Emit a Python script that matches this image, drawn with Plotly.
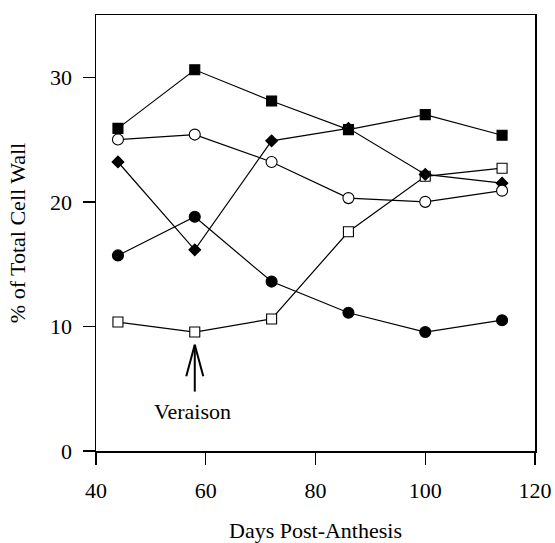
import plotly.graph_objects as go

days = [44, 58, 72, 86, 100, 114]
filled_square = [25.9, 30.6, 28.1, 25.8, 27.0, 25.35]
open_circle = [25.0, 25.4, 23.2, 20.3, 20.0, 20.9]
filled_diamond = [23.2, 16.15, 24.9, 25.9, 22.2, 21.5]
open_square = [10.35, 9.55, 10.6, 17.6, 22.05, 22.7]
filled_circle = [15.7, 18.8, 13.6, 11.1, 9.55, 10.5]

x_ticks = [40, 60, 80, 100, 120]
y_ticks = [0, 10, 20, 30]

veraison_day = 58
arrow_tip = 8.53
arrow_tail = 4.77
barb_end = 6.0
barb_half = 1.55
label_y = 3.16

FONT = "Liberation Serif"

fig = go.Figure()

def add(y, symbol, fill, size):
    fig.add_trace(go.Scatter(
        x=days, y=y, mode="lines+markers",
        line=dict(color="black", width=1.2),
        marker=dict(symbol=symbol, size=size, color=fill,
                    line=dict(color="black", width=1.1)),
        showlegend=False, cliponaxis=False, hoverinfo="skip"))

add(filled_circle, "circle", "black", 11)
add(open_square, "square", "white", 10)
add(filled_diamond, "diamond", "black", 9)
add(open_circle, "circle", "white", 11)
add(filled_square, "square", "black", 10)

# Veraison arrow
shapes = [
    dict(type="line", xref="x", yref="y", x0=veraison_day, x1=veraison_day,
         y0=arrow_tail, y1=arrow_tip, line=dict(color="black", width=2)),
    dict(type="line", xref="x", yref="y", x0=veraison_day - barb_half, x1=veraison_day,
         y0=barb_end, y1=arrow_tip, line=dict(color="black", width=2)),
    dict(type="line", xref="x", yref="y", x0=veraison_day + barb_half, x1=veraison_day,
         y0=barb_end, y1=arrow_tip, line=dict(color="black", width=2)),
]

fig.update_layout(
    width=555, height=543,
    margin=dict(l=96, r=20, t=15, b=92),
    paper_bgcolor="white", plot_bgcolor="white",
    font=dict(family=FONT, size=22, color="black"),
    shapes=shapes,
    annotations=[dict(x=57.6, y=label_y, xref="x", yref="y", text="Veraison",
                      showarrow=False, font=dict(family=FONT, size=22, color="black"))],
)

fig.update_xaxes(
    range=[40, 120], tickvals=x_ticks, ticks="outside", ticklen=12, tickwidth=1.3,
    tickcolor="black", showline=True, linecolor="black", linewidth=1.5, mirror=True,
    showgrid=False, zeroline=False, ticklabelstandoff=7, automargin=False,
    title=dict(text="Days Post-Anthesis", standoff=25, font=dict(family=FONT, size=22)),
    tickfont=dict(family=FONT, size=22),
)
fig.update_yaxes(
    range=[0, 35], tickvals=y_ticks, ticks="outside", ticklen=12, tickwidth=1.3,
    tickcolor="black", showline=True, linecolor="black", linewidth=1.5, mirror=True,
    showgrid=False, zeroline=False, ticklabelstandoff=6, automargin=False,
    title=dict(text="% of Total Cell Wall", standoff=18, font=dict(family=FONT, size=22)),
    tickfont=dict(family=FONT, size=22),
)

fig.write_html(
    "out.html",
    config={"displayModeBar": False, "staticPlot": True},
    post_script="document.body.style.margin='0';document.body.style.overflow='hidden';",
)
